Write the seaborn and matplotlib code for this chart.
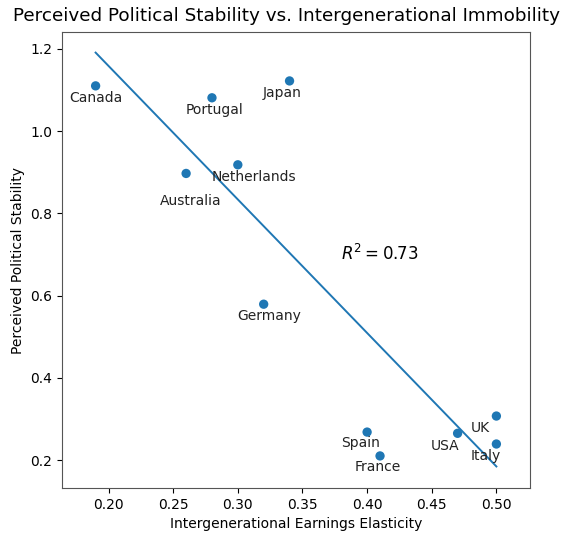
import numpy as np
import pandas as pd
import matplotlib
matplotlib.use("Agg")
import matplotlib.pyplot as plt
import seaborn as sns

countries = ["Canada", "Portugal", "Japan", "Australia", "Netherlands", "Germany",
             "Spain", "France", "USA", "UK", "Italy"]
elasticity = [0.19, 0.28, 0.34, 0.26, 0.30, 0.32, 0.40, 0.41, 0.47, 0.50, 0.50]
stability = [1.110, 1.081, 1.122, 0.897, 0.918, 0.579, 0.268, 0.210, 0.265, 0.307, 0.239]

# label offsets in pixels (dx, dy) from each point
label_offsets = {
    "Canada": (0, -12), "Portugal": (3, -12), "Japan": (-7, -12),
    "Australia": (5, -28), "Netherlands": (16, -12), "Germany": (6, -12),
    "Spain": (-7, -11), "France": (-2, -11), "USA": (-13, -13),
    "UK": (-16, -12), "Italy": (-11, -12),
}

df = pd.DataFrame({"country": countries, "x": elasticity, "y": stability})

slope, intercept = np.polyfit(df["x"], df["y"], 1)
pred = slope * df["x"] + intercept
r2 = 1 - ((df["y"] - pred) ** 2).sum() / ((df["y"] - df["y"].mean()) ** 2).sum()
line_x = np.array([df["x"].min(), df["x"].max()])
line_df = pd.DataFrame({"x": line_x, "y": slope * line_x + intercept})

fig = plt.figure(figsize=(5.71, 5.33), dpi=100)
ax = fig.add_axes([62 / 571, 1 - 488 / 533, (530 - 62) / 571, (488 - 32) / 533])

sns.scatterplot(data=df, x="x", y="y", ax=ax, color="#1f77b4", s=45,
                edgecolor="none", zorder=3)
sns.lineplot(data=line_df, x="x", y="y", ax=ax, color="#1f77b4", lw=1.4)

for c, x, y in zip(countries, elasticity, stability):
    dx, dy = label_offsets[c]
    ax.annotate(c, (x, y), xytext=(dx, dy), textcoords="offset pixels",
                ha="center", va="center", fontsize=10, color="#222222")

ax.text(0.38, 0.70, f"$R^2 = {r2:.2f}$", fontsize=12, va="center")

ax.set_xlim(0.164, 0.526)
ax.set_ylim(0.132, 1.241)
ax.set_xticks([0.20, 0.25, 0.30, 0.35, 0.40, 0.45, 0.50])
ax.set_yticks([0.2, 0.4, 0.6, 0.8, 1.0, 1.2])
ax.set_xlabel("Intergenerational Earnings Elasticity", fontsize=10)
ax.set_ylabel("Perceived Political Stability", fontsize=10)
fig.text(0.502, 1 - 16 / 533, "Perceived Political Stability vs. Intergenerational Immobility",
         fontsize=13.2, ha="center", va="center")
for s in ax.spines.values():
    s.set_color("#555555")

fig.savefig("out.png", dpi=100)
